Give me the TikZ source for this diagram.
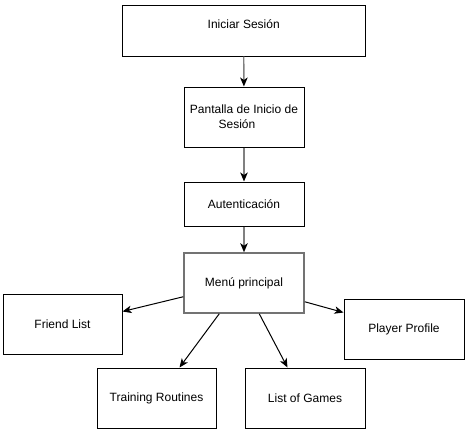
\documentclass[tikz,border=0pt]{standalone}
\usepackage{fontspec}
\setmainfont{Liberation Sans}
\usetikzlibrary{arrows.meta,calc}
\begin{document}
\begin{tikzpicture}[x=1pt,y=-1pt,
  box/.style={draw=black,line width=1pt,fill=white,inner sep=0pt,font=\fontsize{12}{15}\selectfont,align=center},
  lbl/.style={inner sep=0pt,font=\fontsize{12}{15}\selectfont,align=center},
  arr/.style={line width=1pt,-{Stealth[length=9pt,width=7.5pt,inset=2.5pt,color=black]}},
  varr/.style={arr,draw=black!50,line width=1.3pt}]
\useasboundingbox (0,0) rectangle (468,431);
\fill[white] (0,0) rectangle (468,431);
\node[box,minimum width=242.5pt,minimum height=51pt] (ini) at (243.75,30.5) {};
\node[lbl] (initxt) at (243.75,24) {Iniciar Sesión};
\node[box,minimum width=120pt,minimum height=60pt] (pan) at (244,117) {Pantalla de Inicio de\\Sesión\hspace*{14pt}};
\node[box,minimum width=120pt,minimum height=44pt] (aut) at (244,204) {Autenticación};
\node[box,draw=black!55,line width=1.5pt,minimum width=120pt,minimum height=60pt] (menu) at (244,283) {Menú principal};
\node[box,minimum width=119pt,minimum height=60pt] (fl) at (62.5,324) {Friend List};
\node[box,minimum width=120pt,minimum height=60pt] (pp) at (404,329) {Player Profile};
\node[box,minimum width=119pt,minimum height=60pt] (tr) at (156.5,398) {Training Routines};
\node[box,minimum width=120pt,minimum height=60pt] (lg) at (305,398) {List of Games};
\draw[varr] (ini) -- (pan);
\draw[varr] (pan) -- (aut);
\draw[varr] (aut) -- (menu);
\draw[arr] ($(menu.south west)+(0,-17)$) -- ($(fl.north east)+(0,18)$);
\draw[arr] ($(menu.south east)+(0,-12)$) -- ($(pp.north west)+(0,14)$);
\draw[arr] ($(menu.south west)+(36,0)$) -- ($(tr.north west)+(83,0)$);
\draw[arr] ($(menu.south west)+(76,0)$) -- ($(lg.north west)+(43,0)$);
\end{tikzpicture}
\end{document}
